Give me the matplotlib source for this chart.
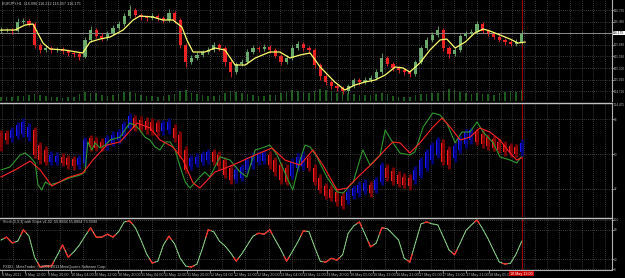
import matplotlib
matplotlib.use("Agg")
import matplotlib.pyplot as plt
from matplotlib import font_manager
import numpy as np

# ---- main pane: EURJPY candles ----
first_open = 116.225
close = [116.250, 116.250, 116.225, 116.450, 116.475, 116.400, 115.875, 115.750, 115.800, 115.750,
         115.775, 115.725, 115.675, 115.650, 115.575, 116.000, 116.250, 116.100, 116.050, 116.175,
         116.300, 116.400, 116.600, 116.750, 116.625, 116.575, 116.550, 116.600, 116.550, 116.500,
         116.675, 116.500, 115.875, 115.450, 115.550, 115.625, 115.700, 115.750, 115.875, 115.800,
         115.450, 115.200, 115.400, 115.450, 115.700, 115.800, 115.775, 115.825, 115.750, 115.600,
         115.450, 115.550, 115.800, 115.900, 115.800, 115.750, 115.375, 115.100, 114.950, 114.850,
         114.800, 114.725, 114.850, 115.000, 114.950, 115.000, 115.050, 115.200, 115.550, 115.400,
         115.300, 115.250, 115.200, 115.150, 115.450, 115.800, 116.000, 116.125, 116.250, 115.800,
         115.650, 115.750, 116.100, 116.175, 116.200, 116.400, 116.225, 116.150, 116.075, 116.000,
         115.950, 115.900, 115.950, 116.175]
high = [116.325, 116.300, 116.300, 116.550, 116.550, 116.525, 116.450, 115.925, 115.875, 115.850,
        115.825, 115.825, 115.775, 115.725, 115.700, 116.075, 116.350, 116.300, 116.175, 116.225,
        116.375, 116.475, 116.675, 116.875, 116.800, 116.675, 116.625, 116.675, 116.650, 116.600,
        116.775, 116.725, 116.550, 115.925, 115.625, 115.700, 115.750, 115.825, 115.950, 115.925,
        115.850, 115.500, 115.450, 115.525, 115.775, 115.875, 115.850, 115.900, 115.875, 115.800,
        115.650, 115.625, 115.875, 115.975, 115.950, 115.850, 115.800, 115.425, 115.150, 115.000,
        114.900, 114.850, 114.900, 115.050, 115.050, 115.075, 115.125, 115.275, 115.675, 115.600,
        115.450, 115.350, 115.300, 115.250, 115.500, 115.850, 116.075, 116.200, 116.350, 116.300,
        115.850, 115.800, 116.150, 116.225, 116.275, 116.475, 116.450, 116.275, 116.200, 116.125,
        116.050, 116.000, 116.025, 116.250]
low = [116.175, 116.200, 116.150, 116.200, 116.400, 116.350, 115.800, 115.675, 115.700, 115.675,
       115.700, 115.650, 115.600, 115.575, 115.500, 115.550, 115.950, 116.050, 115.975, 116.000,
       116.125, 116.250, 116.350, 116.550, 116.575, 116.500, 116.475, 116.500, 116.475, 116.425,
       116.450, 116.425, 115.800, 115.325, 115.400, 115.500, 115.575, 115.650, 115.700, 115.725,
       115.350, 115.075, 115.150, 115.350, 115.400, 115.650, 115.700, 115.725, 115.675, 115.550,
       115.375, 115.400, 115.500, 115.750, 115.725, 115.675, 115.300, 115.000, 114.875, 114.775,
       114.725, 114.650, 114.675, 114.800, 114.875, 114.900, 114.950, 115.000, 115.150, 115.350,
       115.225, 115.175, 115.125, 115.075, 115.100, 115.400, 115.750, 115.950, 116.075, 115.725,
       115.550, 115.600, 115.700, 116.050, 116.125, 116.150, 116.175, 116.100, 116.025, 115.950,
       115.875, 115.850, 115.850, 115.900]
volume = [1400, 1600, 1300, 1900, 1700, 2100, 2600, 2000, 1800, 1500,
          1300, 1200, 1400, 1600, 2400, 3400, 3000, 2700, 2100, 1800,
          2200, 2600, 3100, 3300, 2800, 2200, 1900, 1700, 1600, 1800,
          2000, 2500, 3600, 3900, 3000, 2400, 2100, 1900, 1800, 2200,
          2900, 3500, 3200, 2800, 2400, 2100, 1900, 1700, 2000, 2300,
          2700, 3300, 3800, 3600, 3200, 2900, 3700, 4300, 4100, 3500,
          3000, 3300, 2900, 2500, 2300, 2100, 2000, 2400, 2800, 2500,
          1800, 1500, 1400, 1600, 2200, 2600, 2500, 2700, 2900, 3600,
          4200, 4000, 3100, 2700, 2500, 2900, 2600, 2400, 2300, 2700,
          3200, 3600, 3400, 3900]

# yellow moving average (bar position, price)
ma_pos = [0, 2.5, 4.3, 5.7, 7.5, 8.75, 11.4, 14.6, 15.9, 17.7, 19.5, 21.8, 23.6, 24.8, 27.1, 28.9,
          30.7, 32.3, 33.2, 34.3, 36.4, 38.2, 40, 41.8, 43.6, 45.4, 48, 49.8, 51.6, 53.4, 55.2, 57,
          59.6, 61.4, 63.2, 65, 66.8, 68.6, 70.4, 71.8, 73, 74.8, 76.6, 78.4, 79.6, 81.1, 82.9, 84.6,
          86.1, 87.3, 89.1, 90.9, 92.3, 93.6]
ma_val = [116.25, 116.25, 116.375, 116.4, 115.925, 115.775, 115.75, 115.675, 115.95, 116.025,
          116.075, 116.25, 116.5, 116.6, 116.575, 116.5, 116.5, 116.325, 116.0, 115.7,
          115.7, 115.8, 115.75, 115.375, 115.375, 115.55, 115.7, 115.7, 115.55, 115.625,
          115.675, 115.325, 114.95, 114.75, 114.875, 114.95, 115.0, 115.125, 115.325, 115.3,
          115.2, 115.425, 115.75, 116.0, 116.025, 115.8, 115.95, 116.175, 116.275, 116.225,
          116.125, 116.025, 115.925, 115.95]

# ---- second pane: TDI-style bars and lines ----
tdi_open = [60.8, 60.8, 58.2, 59.3, 60.3, 58.7, 62.3, 54.6, 52.1, 45.9,
            45.9, 48.5, 47.9, 47.4, 44.3, 45.4, 58.2, 56.7, 56.2, 54.1,
            55.7, 57.2, 59.3, 63.4, 68.5, 67.5, 67.0, 66.5, 65.9, 61.8,
            62.3, 63.4, 59.8, 52.1, 43.8, 44.9, 45.9, 46.9, 51.0, 49.5,
            46.9, 42.8, 37.1, 37.7, 41.8, 44.3, 45.9, 46.4, 49.5, 46.9,
            44.3, 42.8, 38.7, 42.8, 43.8, 47.9, 42.8, 37.7, 33.5, 32.0,
            30.5, 28.4, 26.3, 28.4, 29.9, 31.0, 34.1, 31.5, 35.6, 42.8,
            41.3, 39.2, 38.2, 37.7, 36.6, 39.2, 42.8, 46.9, 49.5, 55.7,
            52.1, 47.9, 52.1, 55.1, 57.2, 61.3, 60.3, 58.7, 57.7, 56.2,
            55.1, 54.1, 53.6, 51.0]
tdi_close = [53.6, 57.2, 62.3, 64.9, 66.5, 63.9, 49.5, 46.9, 45.9, 49.5,
             49.0, 45.4, 44.3, 43.8, 47.9, 57.2, 53.6, 53.1, 53.1, 58.2,
             59.8, 61.3, 65.4, 69.5, 63.4, 62.9, 62.3, 61.8, 61.3, 65.9,
             66.5, 58.2, 49.5, 41.8, 47.9, 48.5, 50.0, 51.0, 45.9, 43.8,
             39.2, 36.6, 41.8, 43.3, 46.9, 49.0, 50.0, 50.5, 44.3, 40.7,
             36.6, 35.6, 45.9, 48.5, 49.5, 42.8, 35.6, 31.5, 28.4, 27.4,
             25.3, 23.3, 30.5, 32.5, 34.1, 35.1, 29.9, 36.6, 44.3, 37.7,
             36.1, 34.6, 34.1, 33.5, 41.8, 46.9, 51.0, 54.6, 57.2, 45.9,
             44.3, 54.1, 58.2, 61.3, 62.3, 56.2, 55.1, 54.1, 53.1, 52.1,
             51.0, 50.5, 50.0, 55.7]
green_pos = [0, 1.6, 3.4, 4.3, 5.2, 6.1, 6.6, 7.3, 7.9, 8.75, 10.5, 12.3, 14.1, 15, 15.5, 16.25,
             16.8, 17.7, 18.6, 19.5, 21.25, 23, 23.9, 24.8, 25.7, 26.6, 27.5, 28.4, 29.3, 30.2,
             31.1, 32, 32.9, 33.75, 34.6, 35.5, 36.4, 37.3, 39.1, 40.9, 42.7, 43.9, 45.4, 46.6,
             48, 49.3, 51.1, 52.1, 53.4, 54.3, 55.2, 56.4, 58.2, 60, 61.1, 62.9, 64.6, 65.9,
             67.7, 68.6, 70, 71.25, 73, 73.9, 75.4, 77.1, 78.4, 79.6, 81.1, 82.3, 83.75, 85,
             86.1, 87.9, 89.1, 90.9, 92.1, 92.9]
green_val = [41.8, 43.3, 49.5, 50.5, 48.5, 45.4, 34.1, 31.5, 35.6, 34.1, 35.6, 37.7, 39.2, 40.7,
             56.2, 52.1, 55.7, 53.1, 54.6, 57.2, 58.7, 65.9, 64.9, 62.3, 58.7, 57.2, 53.6, 52.1,
             56.2, 56.2, 52.1, 43.3, 35.6, 32.5, 35.1, 38.2, 40.7, 38.2, 48.5, 46.9, 40.7, 38.2,
             52.1, 53.1, 54.6, 49.5, 37.7, 31.5, 46.9, 54.6, 53.6, 48.5, 38.2, 30.5, 29.9, 35.6,
             52.1, 44.3, 49.5, 62.3, 55.7, 50.5, 49.5, 51.0, 63.9, 71.1, 70.1, 65.9, 55.7, 61.3,
             61.3, 66.5, 61.3, 55.7, 48.5, 46.9, 45.4, 48.5]
red_pos = [0, 2.5, 5.2, 7, 9.1, 11.8, 14.6, 16.4, 18.9, 21.25, 24.3, 26.6, 28.4, 30.7, 32.5, 34.3,
           35.5, 38.2, 41.4, 45.4, 48.4, 50.7, 53.4, 55.7, 57.5, 60, 61.8, 64.1, 66.4, 68.9, 70,
           71.25, 73, 74.8, 77, 78.75, 80.2, 82, 83.75, 85.5, 87.3, 89.1, 90.9, 92.1, 92.9]
red_val = [38.2, 41.8, 46.4, 41.8, 33.5, 37.7, 40.2, 46.9, 54.6, 56.2, 65.9, 63.4, 57.2, 53.6,
           46.9, 35.1, 32.5, 40.7, 44.3, 49.5, 53.1, 46.9, 44.3, 52.1, 44.3, 31.5, 32.5, 39.2,
           45.4, 53.1, 56.2, 55.7, 50.5, 55.7, 63.4, 68.5, 63.9, 57.2, 58.7, 63.4, 61.3, 57.2,
           50.5, 46.9, 47.9]

# ---- third pane: stochastic ----
stoch = [59, 65, 53, 57, 80, 67, 24, 4, 6, 6,
         27, 49, 24, 35, 49, 67, 84, 65, 65, 71,
         65, 76, 96, 98, 84, 59, 31, 12, 16, 49,
         67, 51, 22, 6, 4, 10, 43, 80, 76, 57,
         47, 33, 16, 31, 49, 67, 73, 71, 80, 59,
         39, 16, 35, 55, 78, 76, 45, 16, 14, 22,
         18, 29, 73, 88, 96, 71, 45, 53, 84, 82,
         71, 59, 22, 14, 53, 92, 96, 92, 90, 65,
         39, 29, 53, 78, 90, 100, 82, 61, 37, 14,
         10, 12, 31, 57]

time_labels = ["6 May 2011", "9 May 12:00", "9 May 20:00", "10 May 04:00", "10 May 12:00",
               "10 May 20:00", "11 May 04:00", "11 May 12:00", "11 May 20:00", "12 May 04:00",
               "12 May 12:00", "12 May 20:00", "13 May 04:00", "13 May 12:00", "13 May 20:00",
               "16 May 05:00", "16 May 13:00", "16 May 21:00", "17 May 05:00", "17 May 13:00",
               "17 May 21:00", "18 May 05:00"]
cursor_label = "18 May 13:00"
price_ticks = [116.750, 116.460, 115.880, 115.590, 115.300, 115.010, 114.720]
bid = 116.175
tdi_levels = [68, 50, 32]
stoch_ticks = [0, 20, 80, 100]

# ---- layout ----
W, H = 625, 278
px_bar = 5.6          # pixels per bar
grid_px = 11.6        # grid spacing in pixels
have = {f.name for f in font_manager.fontManager.ttflist}
if "Liberation Sans Narrow" in have:
    font, fs = "Liberation Sans Narrow", 3.2
else:
    font, fs = "Liberation Sans", 2.7
fs_axis = fs * 0.85   # right-hand scale labels are squeezed into ~13 px
txt = "#c8c8c8"
gridc = "#707070"
bull, bear = "#6aaa6a", "#ee2222"

fig = plt.figure(figsize=(W / 100, H / 100), dpi=100, facecolor="black")


def pane(top, bottom):
    return fig.add_axes([0, 1 - bottom / H, 612 / W, (bottom - top) / H])


ax1 = pane(0, 101)
ax2 = pane(103, 217)
ax3 = pane(218, 270)

x = np.arange(len(close))
cursor = x[-1]
grid_x = (np.arange(0.7, 612, grid_px)) / px_bar

# main pane volume sits on a hidden twin axis below the candles
vax = ax1.twinx()
vax.set_ylim(0, max(volume) * 101 / 12)
vax.bar(x, volume, width=0.3, color="#1d5a1d")
vax.axis("off")
vax.patch.set_facecolor("black")
vax.patch.set_visible(True)
ax1.set_zorder(vax.get_zorder() + 1)

for ax in (ax1, ax2, ax3):
    ax.set_facecolor("black")
    ax.set_xlim(-1 / px_bar, 611 / px_bar)
    for s in ("left", "top", "bottom"):
        ax.spines[s].set_visible(False)
    ax.spines["right"].set_color("#b0b0b0")
    ax.spines["right"].set_linewidth(0.8)
    ax.yaxis.tick_right()
    ax.tick_params(axis="y", colors="#b0b0b0", labelsize=fs_axis, length=1.2, width=0.5, pad=0.3,
                   left=False, labelleft=False, right=True, labelright=True)
    ax.set_xticks(grid_x, minor=True)
    ax.tick_params(axis="x", which="minor", length=0)
    ax.grid(True, which="minor", axis="x", color=gridc, lw=0.5, ls=(0, (1, 2)))
    ax.grid(True, which="major", axis="y", color=gridc, lw=0.5, ls=(0, (1, 2)))
    ax.axvline(cursor, color="#9a0000", lw=0.8, zorder=1)
ax1.patch.set_visible(False)
vax.set_xlim(ax1.get_xlim())

for ax in (ax2, ax3):
    ax.spines["top"].set_visible(True)
    ax.spines["top"].set_color("#c0c0c0")
    ax.spines["top"].set_linewidth(1.0)
ax1.set_xticks([])
ax2.set_xticks([])

# main pane
c = np.array(close)
o = np.r_[first_open, c[:-1]]
hi, lo = np.array(high), np.array(low)
up = c >= o
body = np.where(np.abs(c - o) < 0.008, 0.008, np.abs(c - o))
ax1.set_ylim(117.0 - 101 * 0.025, 117.0)
ax1.set_yticks(price_ticks)
ax1.set_yticklabels(["%.3f" % p for p in price_ticks], family=font)
ax1.axhline(bid, color="#8a8a8a", lw=0.7)
for mask, col in ((up, bull), (~up, bear)):
    ax1.vlines(x[mask], lo[mask], hi[mask], color=col, lw=0.6)
    ax1.bar(x[mask], body[mask], bottom=np.minimum(o, c)[mask], width=0.6, color=col)
ax1.plot(ma_pos, ma_val, color="#ffff6e", lw=0.9)
ax1.text(1.002, bid, "%.3f" % bid, transform=ax1.get_yaxis_transform(), ha="left", va="center",
         fontsize=fs_axis, family=font, color="black",
         bbox=dict(boxstyle="square,pad=0.1", fc="white", ec="none"))
fig.text(2 / W, 1 - 4 / H, "EURJPY,H1  116.096 116.212 116.057 116.175", fontsize=fs,
         family=font, color=txt, va="center")

# TDI pane
to, tc = np.array(tdi_open), np.array(tdi_close)
rising = tc >= to
ax2.set_ylim(50 - 63 / 1.944, 50 + 51 / 1.944)
ax2.set_yticks(tdi_levels)
ax2.set_yticklabels([str(v) for v in tdi_levels], family=font)
ax2.vlines(x, np.minimum(to, tc) - 1.8, np.maximum(to, tc) + 1.8,
           colors=np.where(rising, "#00007a", "#7a0000"), lw=2.0)
ax2.bar(x, tc - to, bottom=to, width=0.7, color=np.where(rising, "#1a1aff", "#ff1e1e"))
ax2.plot(green_pos, green_val, color="#2f9a2f", lw=0.8)
ax2.plot(red_pos, red_val, color="#ff2424", lw=0.8)
fig.text(613.5 / W, 1 - 105 / H, "114.475", fontsize=fs_axis, family=font, color="#b0b0b0",
         va="center")

# stochastic pane
s = np.array(stoch, dtype=float)
ax3.set_ylim(-2, 104)
ax3.set_yticks(stoch_ticks)
ax3.set_yticklabels([str(v) for v in stoch_ticks], family=font)
ax3.plot(x, s, color="#3f9f3f", lw=0.8)
ax3.plot(x, s, color="#f4f4f4", lw=0.45, ls=(0, (1.5, 1)))
d = np.sign(np.diff(s))
turns = [i for i in range(1, len(s) - 1) if d[i - 1] != d[i]]
for i in turns:
    ax3.plot([i - 0.4, i, i + 0.4], [0.6 * s[i] + 0.4 * s[i - 1], s[i], 0.6 * s[i] + 0.4 * s[i + 1]],
             color="#ff2020", lw=0.9)
ax3.text(2 / px_bar, 96, "Stoch(5,3,3) with Slope v1.02  55.8864 55.8864 73.5590", fontsize=fs,
         family=font, color=txt, va="center")
ax3.text(2 / px_bar, 5, "FXDD - MetaTrader, \u00a9 2001-2011 MetaQuotes Software Corp.", fontsize=fs,
         family=font, color=txt, va="center")

ax3.spines["bottom"].set_visible(True)
ax3.spines["bottom"].set_color("#b0b0b0")
label_pos = np.arange(len(time_labels)) * 2 * grid_px / px_bar + 0.7 / px_bar
ax3.set_xticks(label_pos)
ax3.set_xticklabels(time_labels, ha="left", family=font)
ax3.tick_params(axis="x", which="major", colors="#b0b0b0", labelsize=fs, length=2, width=0.5, pad=0.5)
ax3.text(cursor, -0.03, cursor_label, transform=ax3.get_xaxis_transform(), ha="center", va="top",
         fontsize=fs, family=font, color="white",
         bbox=dict(boxstyle="square,pad=0.25", fc="#c80000", ec="none"))

fig.savefig("out.png", dpi=100, facecolor="black")
